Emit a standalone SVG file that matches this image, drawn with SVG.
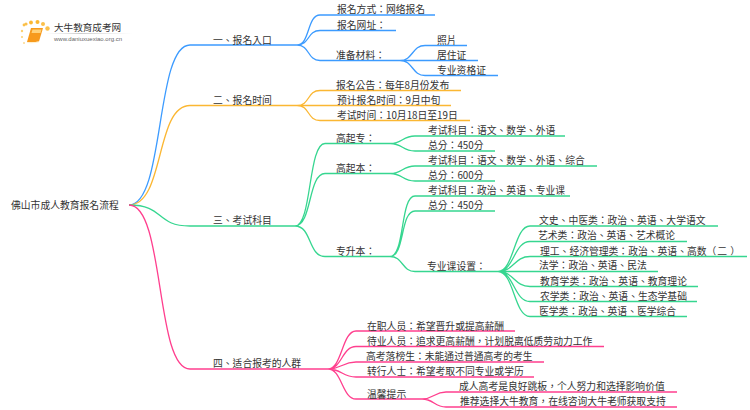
<svg xmlns="http://www.w3.org/2000/svg" width="750" height="410" viewBox="0 0 750 410">
<style>
text{font-family:"Noto Sans CJK TC","Noto Sans CJK SC","Liberation Sans",sans-serif;font-size:9.8px;fill:#333}
#connectors path{fill:none;stroke-width:1.3}
.b{stroke:#3c9bff}.o{stroke:#fbb733}.g{stroke:#36d690}.p{stroke:#ff3f8e}
</style>
<defs><linearGradient id="fade"><stop offset="0" stop-color="#ddd" stop-opacity="0"/><stop offset=".4" stop-color="#ccc"/><stop offset="1" stop-color="#ddd" stop-opacity="0"/></linearGradient></defs>
<g id="logo">
<circle cx="24" cy="25" r="1.4" fill="#fbc04a"/><circle cx="22" cy="31" r="1.2" fill="#fbd070"/><circle cx="26" cy="24" r="1.6" fill="#fbc04a"/><circle cx="31" cy="22.500" r="1.900" fill="#fbb733"/><circle cx="37.500" cy="22" r="2" fill="#fbb733"/><circle cx="43" cy="24" r="2" fill="#fbc04a"/><circle cx="47.500" cy="28.500" r="2.200" fill="#fbc04a"/><circle cx="22" cy="37" r="1" fill="#fbd070"/><circle cx="24" cy="43" r="1" fill="#fbd890"/>
<path d="M31 28H43L39 41.500Q34 42.500 27 42Z" fill="#f79a1c"/><path d="M32.500 29.500H41.500L40.500 33H31.500Z" fill="#ffd27a"/><path d="M27 42Q34 42.500 39 41.500L38.500 42.500Q33 43.500 27.500 43Z" fill="#fff0cc"/>
<text x="54" y="31" style="font-size:9.600px">大牛教育成考网</text>
<rect x="45" y="33" width="88" height="1" fill="url(#fade)"/>
<text x="54" y="41" style="font-family:'Liberation Sans',sans-serif;font-size:6px;fill:#666">www.daniuxuexiao.org.cn</text>
</g>
<g id="connectors">
<path class="b" d="M129 205C165 205 155 45 190 45H297"/>
<path class="o" d="M129 205C165 205 155 105.500 190 105.500H297"/>
<path class="g" d="M129 205C165 205 155 226 190 226H295"/>
<path class="p" d="M129 205C165 205 155 369 190 369H328"/>
<path class="b" d="M297 45C310 45 307 15 320 15H435M297 45C310 45 307 30.500 320 30.500H396M297 45C310 45 307 60.500 320 60.500H400"/>
<path class="b" d="M400 60.500C413 60.500 412 45.500 425 45.500H467M400 60.500C413 60.500 412 60.500 425 60.500H478M400 60.500C413 60.500 412 75.500 425 75.500H498"/>
<path class="o" d="M297 105.500C310 105.500 307 90.500 320 90.500H461M297 105.500C310 105.500 307 105.500 320 105.500H451M297 105.500C310 105.500 307 120.500 320 120.500H470"/>
<path class="g" d="M295 226C312 226 308 143.500 325 143.500H390M295 226C312 226 308 173.500 325 173.500H390M295 226C312 226 308 256.500 325 256.500H390"/>
<path class="g" d="M390 143.500C403 143.500 402 136 415 136H565M390 143.500C403 143.500 402 151 415 151H495"/>
<path class="g" d="M390 173.500C403 173.500 402 166 415 166H597M390 173.500C403 173.500 402 181 415 181H495"/>
<path class="g" d="M390 256.500C405 256.500 400 196 415 196H570M390 256.500C405 256.500 400 211 415 211H495M390 256.500C403 256.500 402 271.500 415 271.500H498"/>
<path class="g" d="M498 271.500C514 271.500 514 226 530 226H718M498 271.500C514 271.500 514 241.500 530 241.500H687M498 271.500C514 271.500 514 256.500 530 256.500H747M498 271.500C514 271.500 514 271.500 530 271.500H658M498 271.500C514 271.500 514 286.500 530 286.500H698M498 271.500C514 271.500 514 301.500 530 301.500H697M498 271.500C514 271.500 514 316.500 530 316.500H687"/>
<path class="p" d="M328 369C342 369 342 331 356 331H515M328 369C342 369 342 346.500 356 346.500H604M328 369C342 369 342 362 356 362H544M328 369C342 369 342 377 356 377H534M328 369C342 369 342 399 356 399H422"/>
<path class="p" d="M422 399C434 399 434 392 446 392H677M422 399C434 399 434 407 446 407H677"/>
</g>
<g id="root"><text x="11" y="209">佛山市成人教育报名流程</text></g>
<g id="n1"><text x="213" y="44">一、报名入口</text></g>
<g id="n1-1"><text x="337" y="13">报名方式：网络报名</text></g>
<g id="n1-2"><text x="337" y="28.500">报名网址：</text></g>
<g id="n1-3"><text x="336" y="59">准备材料：</text></g>
<g id="n1-3-1"><text x="437" y="44">照片</text></g>
<g id="n1-3-2"><text x="437" y="59">居住证</text></g>
<g id="n1-3-3"><text x="437" y="74">专业资格证</text></g>
<g id="n2"><text x="213" y="104">二、报名时间</text></g>
<g id="n2-1"><text x="336" y="89">报名公告：每年8月份发布</text></g>
<g id="n2-2"><text x="337" y="104">预计报名时间：9月中旬</text></g>
<g id="n2-3"><text x="337" y="119">考试时间：10月18日至19日</text></g>
<g id="n3"><text x="213" y="224">三、考试科目</text></g>
<g id="n3-1"><text x="336" y="142">高起专：</text></g>
<g id="n3-1-1"><text x="428" y="134">考试科目：语文、数学、外语</text></g>
<g id="n3-1-2"><text x="428" y="149">总分：450分</text></g>
<g id="n3-2"><text x="336" y="172">高起本：</text></g>
<g id="n3-2-1"><text x="428" y="164">考试科目：语文、数学、外语、综合</text></g>
<g id="n3-2-2"><text x="428" y="179">总分：600分</text></g>
<g id="n3-3"><text x="336" y="255">专升本：</text></g>
<g id="n3-3-1"><text x="428" y="194">考试科目：政治、英语、专业课</text></g>
<g id="n3-3-2"><text x="428" y="209">总分：450分</text></g>
<g id="n3-3-3"><text x="427" y="270">专业课设置：</text></g>
<g id="n3-3-3-1"><text x="539" y="224">文史、中医类：政治、英语、大学语文</text></g>
<g id="n3-3-3-2"><text x="538" y="239">艺术类：政治、英语、艺术概论</text></g>
<g id="n3-3-3-3"><text x="540" y="255">理工、经济管理类：政治、英语、高数（<tspan dx="1">二</tspan><tspan dx="3">）</tspan></text></g>
<g id="n3-3-3-4"><text x="539" y="269">法学：政治、英语、民法</text></g>
<g id="n3-3-3-5"><text x="540" y="285">教育学类：政治、英语、教育理论</text></g>
<g id="n3-3-3-6"><text x="540" y="300">农学类：政治、英语、生态学基础</text></g>
<g id="n3-3-3-7"><text x="539" y="315">医学类：政治、英语、医学综合</text></g>
<g id="n4"><text x="213" y="367">四、适合报考的人群</text></g>
<g id="n4-1"><text x="367" y="330">在职人员：希望晋升或提高薪酬</text></g>
<g id="n4-2"><text x="367" y="345">待业人员：追求更高薪酬，计划脱离低质劳动力工作</text></g>
<g id="n4-3"><text x="366" y="360">高考落榜生：未能通过普通高考的考生</text></g>
<g id="n4-4"><text x="367" y="375">转行人士：希望考取不同专业或学历</text></g>
<g id="n4-5"><text x="367" y="398">温馨提示</text></g>
<g id="n4-5-1"><text x="459" y="390">成人高考是良好跳板，个人努力和选择影响价值</text></g>
<g id="n4-5-2"><text x="460" y="405">推荐选择大牛教育，在线咨询大牛老师获取支持</text></g>
</svg>
